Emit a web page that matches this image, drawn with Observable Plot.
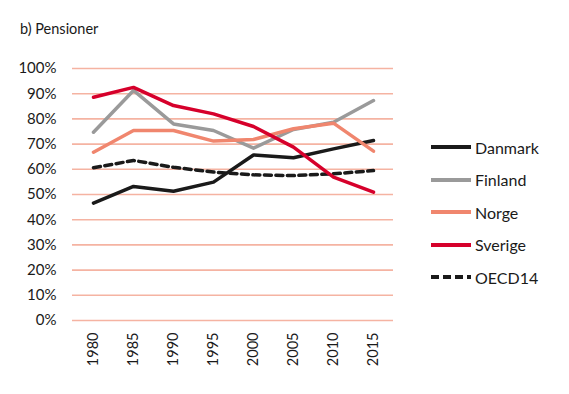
<!DOCTYPE html>
<html>
<head>
<meta charset="utf-8">
<script src="https://cdn.jsdelivr.net/npm/d3@7"></script>
<script src="https://cdn.jsdelivr.net/npm/@observablehq/plot@0.6"></script>
<style>
  html, body { margin: 0; padding: 0; background: #fff; }
  #wrap { position: relative; width: 569px; height: 394px; font-family: Lato, "Open Sans", sans-serif; color: #1a1a1a; }
  #title { position: absolute; left: 20px; top: 20px; font-size: 14.5px; }
  #legend { position: absolute; left: 431px; top: 131px; font-size: 16px; }
  .item { display: flex; align-items: center; height: 32.5px; }
  .item svg { margin-right: 4px; }
  #chart { position: absolute; left: 0; top: 0; }
</style>
</head>
<body>
<div id="wrap">
  <div id="chart"></div>
  <div id="title">b) Pensioner</div>
  <div id="legend"></div>
</div>
<script>
const years = ["1980", "1985", "1990", "1995", "2000", "2005", "2010", "2015"];
const seriesNames = ["Danmark", "Finland", "Norge", "Sverige", "OECD14"];
const seriesColors = ["#1a1a1a", "#9a9a9a", "#f0866e", "#d6002b", "#1a1a1a"];
const danmark = [0.466, 0.532, 0.513, 0.549, 0.657, 0.646, 0.681, 0.714];
const finland = [0.747, 0.913, 0.780, 0.754, 0.684, 0.758, 0.787, 0.873];
const norge   = [0.668, 0.754, 0.754, 0.712, 0.718, 0.761, 0.783, 0.672];
const sverige = [0.886, 0.925, 0.853, 0.820, 0.770, 0.688, 0.569, 0.509];
const oecd14  = [0.606, 0.635, 0.608, 0.589, 0.578, 0.575, 0.582, 0.595];
const yTicks = [0, 0.1, 0.2, 0.3, 0.4, 0.5, 0.6, 0.7, 0.8, 0.9, 1.0];

const valuesBySeries = [danmark, finland, norge, sverige, oecd14];
const data = [];
seriesNames.forEach((s, i) => {
  years.forEach((y, j) => data.push({series: s, year: y, value: valuesBySeries[i][j]}));
});
const solid = data.filter(d => d.series !== "OECD14");
const dashed = data.filter(d => d.series === "OECD14");

const chart = Plot.plot({
  width: 569,
  height: 394,
  marginLeft: 72,
  marginRight: 176,
  marginTop: 68,
  marginBottom: 74,
  style: {fontFamily: "Lato, 'Open Sans', sans-serif", fontSize: "14px", color: "#1a1a1a", background: "transparent"},
  x: {type: "point", domain: years, padding: 0.5, label: null},
  y: {domain: [0, 1], label: null},
  color: {domain: seriesNames, range: seriesColors},
  marks: [
    Plot.ruleY(yTicks, {stroke: "#f5b3a2", strokeWidth: 1.6}),
    Plot.axisY({ticks: yTicks, tickFormat: d3.format(".0%"), tickSize: 0, tickPadding: 16, fontSize: 15, label: null}),
    Plot.axisX({tickSize: 0, tickRotate: -90, tickPadding: 12, fontSize: 14.5, label: null}),
    Plot.line(dashed, {x: "year", y: "value", stroke: "series", strokeWidth: 3.5, strokeDasharray: "7,4.5"}),
    Plot.line(solid, {x: "year", y: "value", z: "series", stroke: "series", strokeWidth: 3.5})
  ]
});
document.getElementById("chart").appendChild(chart);

const legend = document.getElementById("legend");
seriesNames.forEach((s, i) => {
  const item = document.createElement("div");
  item.className = "item";
  const dash = s === "OECD14" ? ' stroke-dasharray="8,4"' : '';
  item.innerHTML = `<svg width="40" height="6"><line x1="0" y1="3" x2="40" y2="3" stroke="${seriesColors[i]}" stroke-width="4"${dash}/></svg><span>${s}</span>`;
  legend.appendChild(item);
});
</script>
</body>
</html>
